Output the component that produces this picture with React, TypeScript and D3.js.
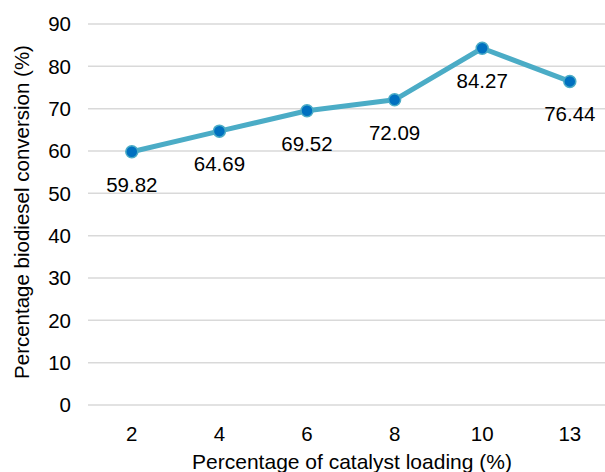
import React from "react";
import * as d3 from "d3";

const categories = ["2", "4", "6", "8", "10", "13"];
const values = [59.82, 64.69, 69.52, 72.09, 84.27, 76.44];
const yTicks = [0, 10, 20, 30, 40, 50, 60, 70, 80, 90];

const W = 605;
const H = 472;
const FONT = "Liberation Sans, Arial, sans-serif";

export default function App() {
  const left = 88;
  const band = 87.6;
  const x = d3
    .scaleBand<string>()
    .domain(categories)
    .range([left, left + band * categories.length])
    .paddingInner(0)
    .paddingOuter(0);
  const y = d3.scaleLinear().domain([0, 90]).range([405, 24]);
  const cx = (c: string) => (x(c) as number) + x.bandwidth() / 2;

  const line = d3
    .line<number>()
    .x((_, i) => cx(categories[i]))
    .y((d) => y(d));

  return (
    <svg
      width={W}
      height={H}
      style={{ position: "absolute", left: 0, top: 0, background: "#fff" }}
      fontFamily={FONT}
    >
      {yTicks.map((t) => (
        <g key={t}>
          <line x1={left} x2={W} y1={y(t)} y2={y(t)} stroke="#d9d9d9" strokeWidth={1.5} />
          <text x={71} y={y(t)} dy="0.35em" textAnchor="end" fontSize={20.5} fill="#000">
            {t}
          </text>
        </g>
      ))}
      {categories.map((c) => (
        <text key={c} x={cx(c)} y={441} textAnchor="middle" fontSize={20.5} fill="#000">
          {c}
        </text>
      ))}
      <text x={352} y={469} textAnchor="middle" fontSize={21} fill="#000">
        Percentage of catalyst loading (%)
      </text>
      <text
        transform={`translate(29, 212) rotate(-90)`}
        textAnchor="middle"
        fontSize={20.5}
        fill="#000"
      >
        Percentage biodiesel conversion (%)
      </text>
      <path d={line(values) || ""} fill="none" stroke="#4bacc6" strokeWidth={5} strokeLinejoin="round" />
      {values.map((v, i) => (
        <circle key={i} cx={cx(categories[i])} cy={y(v)} r={6} fill="#0070c0" stroke="#4bacc6" strokeWidth={1.5} />
      ))}
      {values.map((v, i) => (
        <text key={"l" + i} x={cx(categories[i])} y={y(v) + 40} textAnchor="middle" fontSize={20.5} fill="#000">
          {v.toFixed(2)}
        </text>
      ))}
    </svg>
  );
}
